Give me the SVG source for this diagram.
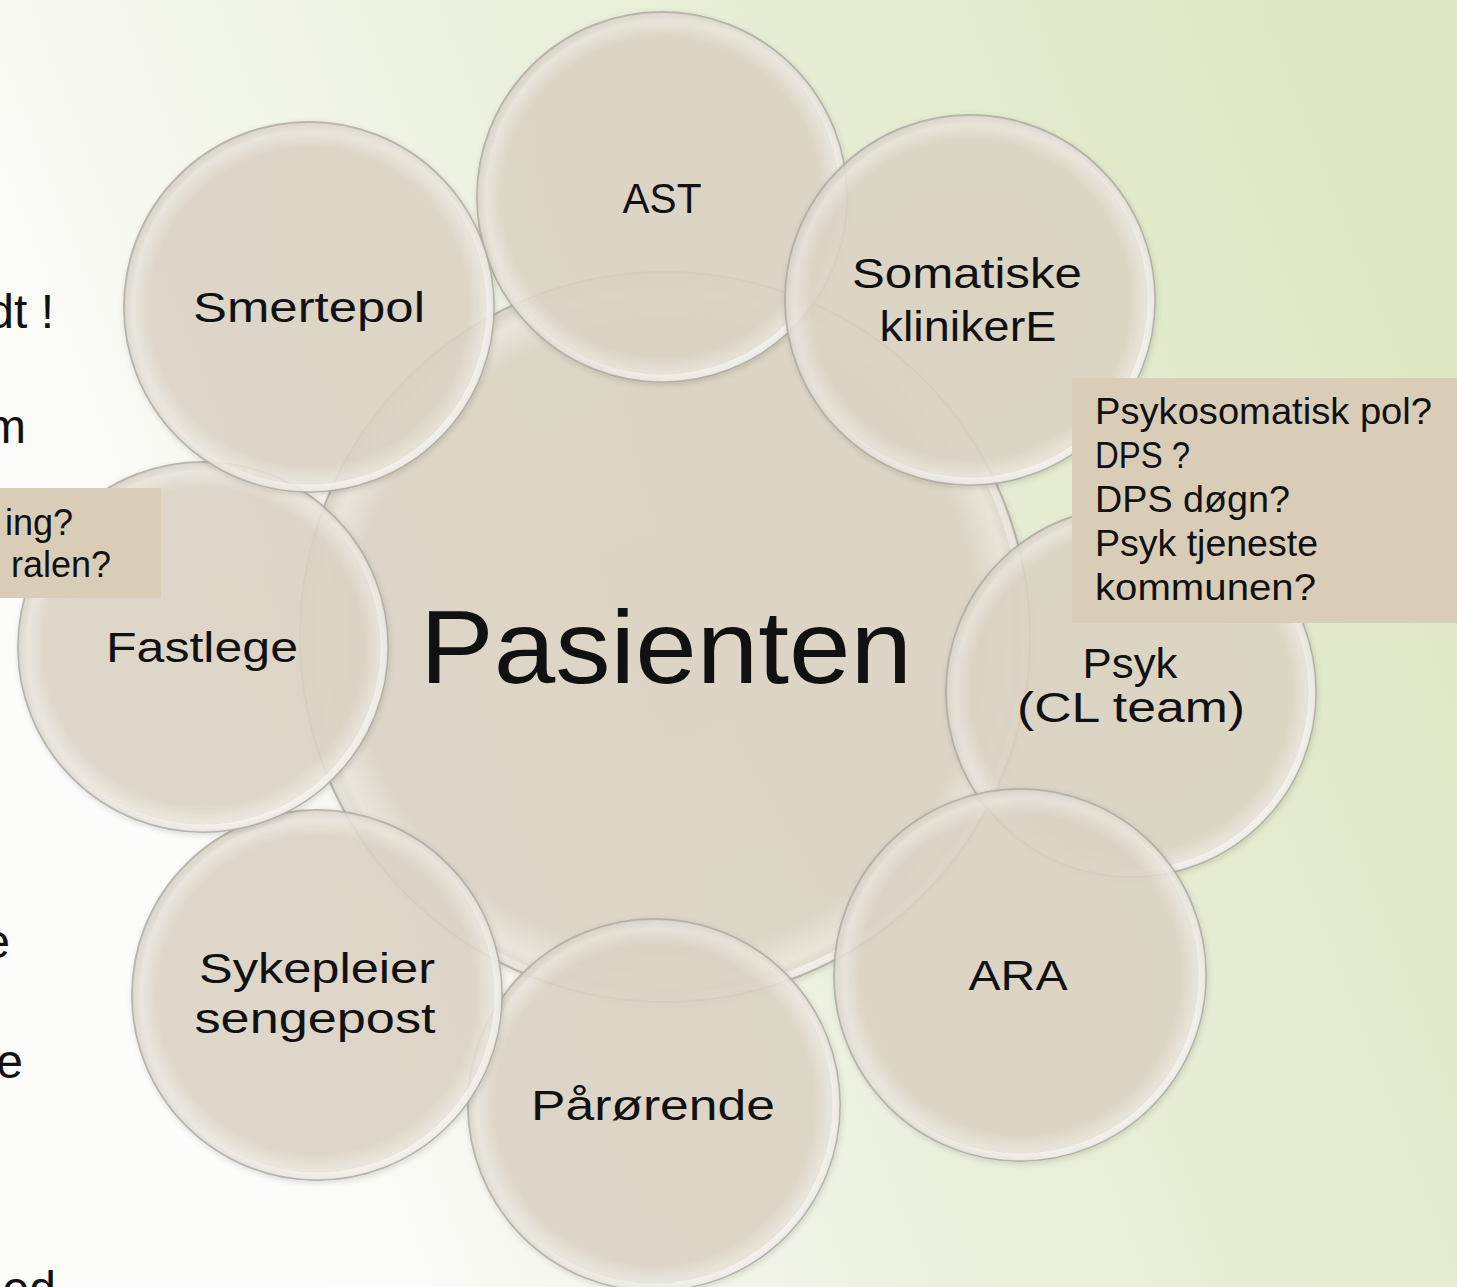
<svg xmlns="http://www.w3.org/2000/svg" width="1457" height="1287" viewBox="0 0 1457 1287">
<style>
.bub{fill:url(#bubFill);stroke:#aeaba2;stroke-width:2;opacity:0.86}
.rim{fill:none;stroke:url(#rimGrad);stroke-width:7;opacity:0.8}
.lbl{font-family:"Liberation Sans",Arial,sans-serif;font-size:43px;fill:#111;text-anchor:middle}
.big{font-family:"Liberation Sans",Arial,sans-serif;font-size:104px;fill:#111}
.note{font-family:"Liberation Sans",Arial,sans-serif;font-size:36px;fill:#111}
.body{font-family:"Liberation Sans",Arial,sans-serif;font-size:48px;fill:#111;text-anchor:end}
.box{fill:#d9cdb7}
</style>
<defs>
<linearGradient id="bg" gradientUnits="userSpaceOnUse" x1="100" y1="700" x2="1400" y2="200">
<stop offset="0" stop-color="#fcfcfa"/>
<stop offset="0.45" stop-color="#ebf0dd"/>
<stop offset="1" stop-color="#dde7c3"/>
</linearGradient>
<radialGradient id="bubFill" cx="0.5" cy="0.5" r="0.5">
<stop offset="0" stop-color="#dcd3c4"/>
<stop offset="0.86" stop-color="#ddd4c5"/>
<stop offset="0.95" stop-color="#ebe6dc"/>
<stop offset="1" stop-color="#d6cfc2"/>
</radialGradient>
<linearGradient id="rimGrad" x1="0" y1="0" x2="1" y2="1">
<stop offset="0" stop-color="#c9c3b8" stop-opacity="0.4"/>
<stop offset="0.5" stop-color="#ffffff" stop-opacity="0.3"/>
<stop offset="1" stop-color="#ffffff" stop-opacity="0.9"/>
</linearGradient>
<filter id="sh" x="-10%" y="-10%" width="120%" height="120%">
<feGaussianBlur in="SourceAlpha" stdDeviation="3"/>
<feOffset dx="1" dy="2"/>
<feComponentTransfer><feFuncA type="linear" slope="0.15"/></feComponentTransfer>
<feMerge><feMergeNode/><feMergeNode in="SourceGraphic"/></feMerge>
</filter>
</defs>
<rect x="0" y="0" width="1457" height="1287" fill="url(#bg)"/>

<g id="left-text">
<text class="body" x="54" y="328">dt !</text>
<text class="body" x="26" y="443">m</text>
<text class="body" x="10" y="958">e</text>
<text class="body" x="23" y="1078">e</text>
<text class="body" x="56" y="1305">ed</text>
</g>

<g id="node-pasienten" filter="url(#sh)">
<circle class="bub" cx="665" cy="637" r="365"/>
<circle class="rim" cx="665" cy="637" r="360"/>
</g>
<g id="node-ast" filter="url(#sh)">
<circle class="bub" cx="662" cy="197" r="185"/>
<circle class="rim" cx="662" cy="197" r="181"/>
</g>
<g id="node-somatiske" filter="url(#sh)">
<circle class="bub" cx="970" cy="300" r="185"/>
<circle class="rim" cx="970" cy="300" r="181"/>
</g>
<g id="node-psyk" filter="url(#sh)">
<circle class="bub" cx="1131" cy="692" r="185"/>
<circle class="rim" cx="1131" cy="692" r="181"/>
</g>
<g id="node-ara" filter="url(#sh)">
<circle class="bub" cx="1020" cy="975" r="186"/>
<circle class="rim" cx="1020" cy="975" r="182"/>
</g>
<g id="node-parorende" filter="url(#sh)">
<circle class="bub" cx="654" cy="1105" r="186"/>
<circle class="rim" cx="654" cy="1105" r="182"/>
</g>
<g id="node-sykepleier" filter="url(#sh)">
<circle class="bub" cx="317" cy="995" r="185"/>
<circle class="rim" cx="317" cy="995" r="181"/>
</g>
<g id="node-fastlege" filter="url(#sh)">
<circle class="bub" cx="203" cy="647" r="185"/>
<circle class="rim" cx="203" cy="647" r="181"/>
</g>
<g id="node-smertepol" filter="url(#sh)">
<circle class="bub" cx="309" cy="307" r="185"/>
<circle class="rim" cx="309" cy="307" r="181"/>
</g>

<g id="labels">
<text class="big" x="420" y="683" textLength="492" lengthAdjust="spacingAndGlyphs">Pasienten</text>
<text class="lbl" x="662" y="213" textLength="79" lengthAdjust="spacingAndGlyphs">AST</text>
<text class="lbl" x="967" y="288" textLength="230" lengthAdjust="spacingAndGlyphs">Somatiske</text>
<text class="lbl" x="968" y="341" textLength="177" lengthAdjust="spacingAndGlyphs">klinikerE</text>
<text class="lbl" x="309" y="322" textLength="232" lengthAdjust="spacingAndGlyphs">Smertepol</text>
<text class="lbl" x="202" y="662" textLength="192" lengthAdjust="spacingAndGlyphs">Fastlege</text>
<text class="lbl" x="1130" y="678" textLength="95" lengthAdjust="spacingAndGlyphs">Psyk</text>
<text class="lbl" x="1131" y="722" textLength="228" lengthAdjust="spacingAndGlyphs">(CL team)</text>
<text class="lbl" x="1018" y="990" textLength="99" lengthAdjust="spacingAndGlyphs">ARA</text>
<text class="lbl" x="317" y="983" textLength="236" lengthAdjust="spacingAndGlyphs">Sykepleier</text>
<text class="lbl" x="315" y="1033" textLength="241" lengthAdjust="spacingAndGlyphs">sengepost</text>
<text class="lbl" x="653" y="1120" textLength="244" lengthAdjust="spacingAndGlyphs">Pårørende</text>
</g>

<g id="note-left">
<rect class="box" x="0" y="488" width="161" height="110"/>
<text class="note" x="73" y="535" text-anchor="end">ing?</text>
<text class="note" x="111" y="577" text-anchor="end">ralen?</text>
</g>

<g id="note-right">
<rect class="box" x="1072" y="378" width="385" height="245"/>
<text class="note" x="1095" y="424" textLength="337" lengthAdjust="spacingAndGlyphs">Psykosomatisk pol?</text>
<text class="note" x="1095" y="468" textLength="95" lengthAdjust="spacingAndGlyphs">DPS ?</text>
<text class="note" x="1095" y="512" textLength="195" lengthAdjust="spacingAndGlyphs">DPS døgn?</text>
<text class="note" x="1095" y="556" textLength="223" lengthAdjust="spacingAndGlyphs">Psyk tjeneste</text>
<text class="note" x="1095" y="600" textLength="221" lengthAdjust="spacingAndGlyphs">kommunen?</text>
</g>

<g id="connectors"></g>
</svg>
